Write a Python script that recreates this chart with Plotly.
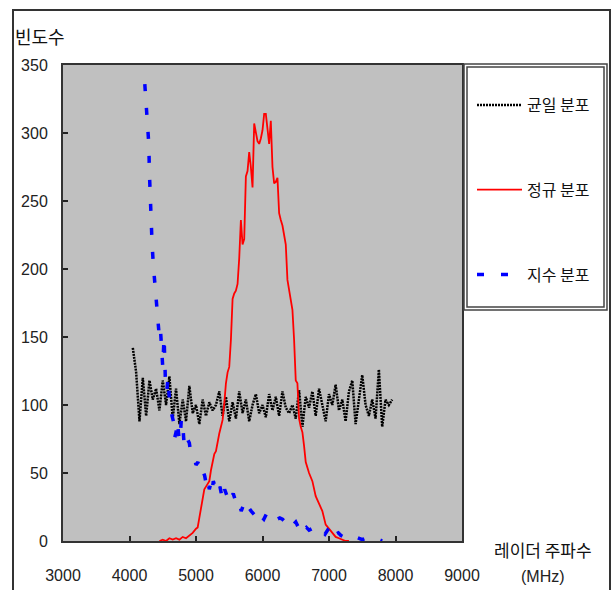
import plotly.graph_objects as go

# ---------------- data ----------------
uniform_x = list(range(4050, 8000, 50))
uniform_y = [142, 124, 88, 120, 92, 118, 104, 112, 96, 118,
             100, 121, 90, 112, 86, 104, 88, 114, 94, 100,
             86, 104, 92, 102, 96, 100, 110, 92, 106, 88,
             102, 90, 110, 94, 104, 88, 100, 108, 94, 100,
             91, 108, 96, 106, 92, 110, 98, 94, 100, 90,
             111, 84, 106, 98, 110, 92, 112, 100, 88, 108,
             100, 115, 96, 104, 88, 110, 118, 86, 104, 122,
             100, 92, 104, 90, 126, 84, 104, 100, 104]

normal_x = [4450, 4500, 4550, 4600, 4650, 4700, 4750, 4800, 4850, 4900,
            4950, 5000, 5025, 5050, 5075, 5100, 5125, 5150, 5175, 5200,
            5225, 5250, 5275, 5300, 5325, 5350, 5375, 5400, 5425, 5450,
            5475, 5500, 5525, 5550, 5575, 5600, 5625, 5650, 5675, 5700,
            5725, 5750, 5775, 5800, 5825, 5850, 5875, 5900, 5925, 5950,
            5975, 6000, 6025, 6050, 6075, 6100, 6125, 6150, 6175, 6200,
            6225, 6250, 6275, 6300, 6325, 6350, 6375, 6400, 6425, 6450,
            6475, 6500, 6525, 6550, 6575, 6600, 6625, 6650, 6700, 6750,
            6800, 6850, 6900, 6950, 7000, 7050, 7100, 7150, 7200, 7250, 7300]
normal_y = [0, 1, 0, 2, 1, 2, 1, 3, 2, 4,
            6, 9, 10, 17, 25, 31, 38, 40, 42, 44,
            52, 58, 64, 66, 74, 79, 84, 89, 101, 116,
            124, 128, 148, 178, 182, 184, 189, 208, 236, 218,
            222, 268, 272, 286, 275, 260, 307, 300, 294, 292,
            296, 302, 314, 314, 300, 292, 309, 275, 263, 264,
            267, 241, 236, 232, 225, 218, 192, 185, 178, 170,
            148, 118, 116, 90, 84, 80, 70, 58, 50, 44,
            33, 28, 22, 12, 9, 6, 3, 2, 1, 0, 0]

expo_x = [4230, 4250, 4270, 4290, 4300, 4310, 4320, 4340, 4360, 4380,
          4400, 4420, 4440, 4460, 4480, 4500, 4520, 4540, 4560, 4580,
          4600, 4620, 4640, 4660, 4680, 4700, 4720, 4740, 4760, 4780,
          4800, 4820, 4850, 4880, 4900, 4920, 4950, 4980, 5000, 5030,
          5060, 5100, 5130, 5160, 5180, 5200, 5220, 5240, 5260, 5280,
          5300, 5330, 5360, 5400, 5430, 5460, 5500, 5530, 5560, 5590,
          5620, 5650, 5680, 5710, 5740, 5770, 5800, 5830, 5860, 5900,
          5940, 5980, 6020, 6060, 6100, 6140, 6180, 6220, 6260, 6300,
          6340, 6380, 6420, 6460, 6500, 6540, 6580, 6620, 6660, 6700,
          6740, 6780, 6820, 6860, 6900, 6940, 6980, 7020, 7060, 7100,
          7140, 7180, 7220, 7260, 7300, 7350, 7400, 7450, 7500, 7550,
          7600, 7650, 7700, 7750, 7800]
expo_y = [336, 320, 310, 292, 270, 252, 240, 218, 202, 190,
          175, 165, 155, 160, 140, 128, 150, 118, 110, 120,
          104, 96, 92, 88, 76, 80, 88, 78, 74, 90,
          86, 72, 78, 74, 72, 65, 62, 60, 56, 58,
          50, 52, 48, 40, 44, 38, 42, 36, 44, 40,
          38, 35, 40, 30, 38, 34, 28, 32, 35, 30,
          26, 28, 22, 26, 24, 20, 24, 22, 20, 18,
          22, 18, 16, 20, 18, 15, 17, 16, 17, 16,
          14, 17, 14, 12, 14, 10, 13, 8, 10, 8,
          9, 7, 8, 6, 7, 5, 8, 6, 10, 5,
          6, 4, 3, 4, 3, 2, 3, 2, 1, 2,
          1, 1, 2, 1, 0]

series_names = ["균일 분포", "정규 분포", "지수 분포"]
x_tick_vals = [3000, 4000, 5000, 6000, 7000, 8000, 9000]
y_tick_vals = [0, 50, 100, 150, 200, 250, 300, 350]

# ---------------- layout helpers ----------------
W, H = 614, 590
L, R, T, B = 63, 462, 65, 541


def px(x):
    return (x - L) / (R - L)


def py(y):
    return (B - y) / (B - T)


fig = go.Figure()
fig.add_trace(go.Scatter(x=uniform_x, y=uniform_y, mode="lines", name=series_names[0],
                         legendgroup="a",
                         line=dict(color="black", width=2.5, dash="2px,1px")))
fig.add_trace(go.Scatter(x=normal_x, y=normal_y, mode="lines", name=series_names[1],
                         legendgroup="b",
                         line=dict(color="#ff0000", width=1.8)))
fig.add_trace(go.Scatter(x=expo_x, y=expo_y, mode="lines", name=series_names[2],
                         legendgroup="c",
                         line=dict(color="#0000ff", width=3.5, dash="7px,17px")))

tick_font = dict(family="Liberation Sans, Arial, sans-serif", size=16, color="#222")
kfont = dict(family="Noto Sans CJK KR", size=17, color="#111")

fig.update_xaxes(range=[3000, 9000], tickvals=x_tick_vals, ticks="inside", ticklen=5,
                 tickcolor="#222", tickwidth=1.5, showgrid=False, zeroline=False,
                 showline=True, linecolor="#333", linewidth=2, mirror=True,
                 tickfont=tick_font, ticklabelstandoff=19)
fig.update_yaxes(range=[0, 350], tickvals=y_tick_vals, ticks="inside", ticklen=5,
                 tickcolor="#222", tickwidth=1.5, showgrid=False, zeroline=False,
                 showline=True, linecolor="#333", linewidth=2, mirror=True,
                 tickfont=tick_font, ticklabelstandoff=10)

shapes = [
    # outer frame
    dict(type="rect", xref="paper", yref="paper", x0=px(13), x1=px(610), y0=py(640), y1=py(10),
         line=dict(color="#333", width=2), fillcolor="rgba(0,0,0,0)", layer="below"),
    # legend double frame
    dict(type="rect", xref="paper", yref="paper", x0=px(464), x1=px(607), y0=py(310), y1=py(64),
         line=dict(color="#444", width=1.5)),
    dict(type="rect", xref="paper", yref="paper", x0=px(467), x1=px(604), y0=py(307), y1=py(67),
         line=dict(color="#444", width=1.5)),
]

annotations = [
    dict(text="빈도수", x=px(40), y=py(36), xref="paper", yref="paper", showarrow=False,
         xanchor="center", yanchor="middle", font=dict(family="Noto Sans CJK KR", size=18, color="#111")),
    dict(text="레이더 주파수", x=px(543), y=py(549), xref="paper", yref="paper", showarrow=False,
         xanchor="center", yanchor="middle", font=kfont),
    dict(text="(MHz)", x=px(543), y=py(576), xref="paper", yref="paper", showarrow=False,
         xanchor="center", yanchor="middle",
         font=dict(family="Liberation Sans, Arial, sans-serif", size=16, color="#222")),
]

fig.update_layout(
    width=W, height=H,
    margin=dict(l=L, r=W - R, t=T, b=H - B, autoexpand=False),
    paper_bgcolor="white", plot_bgcolor="#c0c0c0",
    shapes=shapes, annotations=annotations,
    showlegend=True,
    legend=dict(x=px(472), y=py(88), xanchor="left", yanchor="top",
                bgcolor="rgba(0,0,0,0)", borderwidth=0, itemwidth=45,
                tracegroupgap=61, traceorder="grouped",
                font=dict(family="Noto Sans CJK KR", size=16, color="#111")),
)

fig.write_html("out.html")
